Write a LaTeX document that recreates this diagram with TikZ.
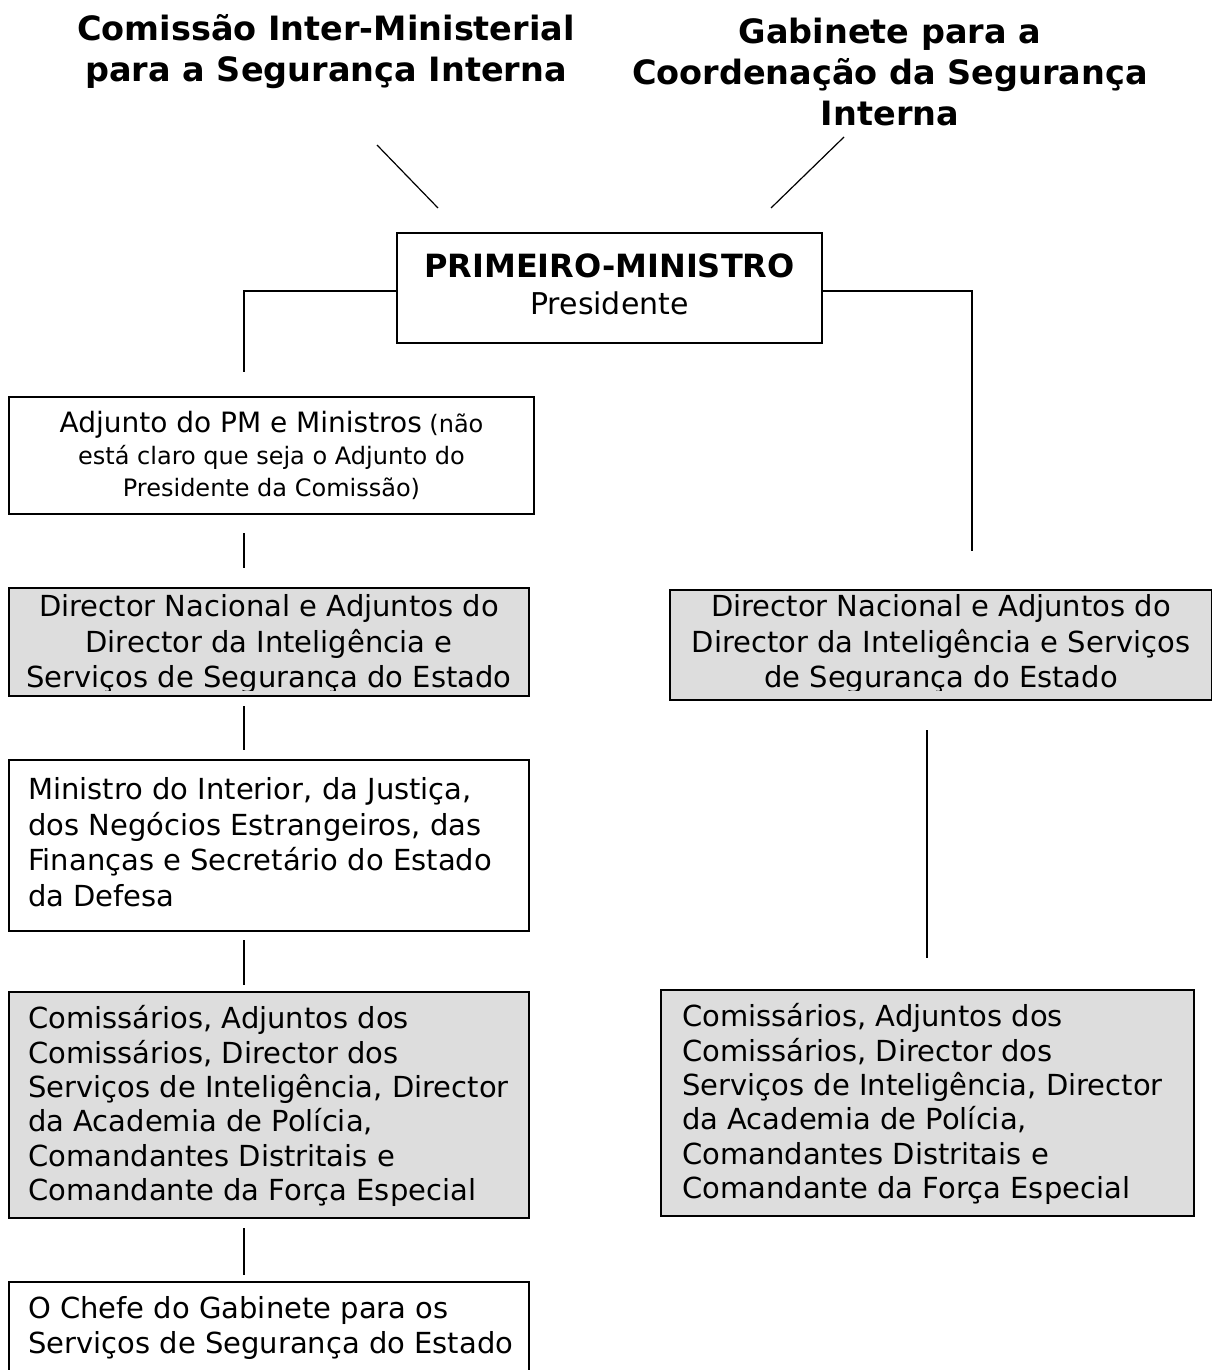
\documentclass[tikz,border=0pt]{standalone}
\usepackage{fontspec}
\setmainfont{DejaVu Sans}
\definecolor{boxgray}{HTML}{DDDDDD}
\begin{document}
\begin{tikzpicture}[x=1pt,y=-1pt,
  wbox/.style={draw=black, line width=1.4pt, fill=white, rectangle, inner sep=0pt},
  gbox/.style={wbox, fill=boxgray},
  conn/.style={draw=black, line width=1.2pt},
  body/.style={inner sep=0pt, font=\fontsize{29}{35.5}\selectfont},
  small/.style={inner sep=0pt, font=\fontsize{24}{32}\selectfont},
  ttl/.style={inner sep=0pt, align=center, font=\fontsize{33.5}{41}\selectfont\bfseries}]
\useasboundingbox (0,0) rectangle (1212,1370);
\fill[white] (0,0) rectangle (1212,1370);

% titles
\node[ttl] (t1) at (326,52) {Comissão Inter-Ministerial\\para a Segurança Interna};
\node[ttl] (t2) at (890,72) {Gabinete para a\\Coordenação da Segurança\\Interna};

\coordinate (d1a) at (377,145); \coordinate (d1b) at (438,208);
\coordinate (d2a) at (844,137); \coordinate (d2b) at (771,208);
\draw[conn] (d1a) -- (d1b);
\draw[conn] (d2a) -- (d2b);

% boxes
\node[wbox, minimum width=425pt, minimum height=110pt] (pm) at (609.5,288) {};
\node[body, align=center, font=\fontsize{30}{37}\selectfont] (pmt) at (609.5,284)
  {{\fontsize{32}{37}\selectfont\bfseries PRIMEIRO-MINISTRO}\\Presidente};

\node[wbox, minimum width=525pt, minimum height=117pt] (a) at (271.5,455.5) {};
\node[small, align=center] (at) at (271.5,455)
  {{\fontsize{28}{32}\selectfont Adjunto do PM e Ministros} (não\\está claro que seja o Adjunto do\\Presidente da Comissão)};

\node[gbox, minimum width=520pt, minimum height=108pt] (b) at (269,642) {};
\node[gbox, minimum width=542pt, minimum height=110pt] (c) at (941,645) {};
\begin{scope}
\clip (0,580) rectangle (1212,690);
\node[body, align=center] (bt) at (269,644)
  {Director Nacional e Adjuntos do\\Director da Inteligência e\\Serviços de Segurança do Estado};
\node[body, align=center] (ct) at (941,644)
  {Director Nacional e Adjuntos do\\Director da Inteligência e Serviços\\de Segurança do Estado};
\end{scope}

\node[wbox, minimum width=520pt, minimum height=171pt] (d) at (269,845.5) {};
\node[body, align=left, anchor=west] (dt) at (28,842)
  {Ministro do Interior, da Justiça,\\dos Negócios Estrangeiros, das\\Finanças e Secretário do Estado\\da Defesa};

\node[gbox, minimum width=520pt, minimum height=226pt] (e) at (269,1105) {};
\node[body, align=left, anchor=west, font=\fontsize{29}{34.3}\selectfont] (et) at (28,1106)
  {Comissários, Adjuntos dos\\Comissários, Director dos\\Serviços de Inteligência, Director\\da Academia de Polícia,\\Comandantes Distritais e\\Comandante da Força Especial};

\node[gbox, minimum width=533pt, minimum height=226pt] (f) at (927.5,1103) {};
\node[body, align=left, anchor=west, font=\fontsize{29}{34.3}\selectfont] (ft) at (682,1104)
  {Comissários, Adjuntos dos\\Comissários, Director dos\\Serviços de Inteligência, Director\\da Academia de Polícia,\\Comandantes Distritais e\\Comandante da Força Especial};

\node[wbox, minimum width=520pt, minimum height=120pt] (g) at (269,1342) {};
\node[body, align=left, anchor=west] (gt) at (28,1328)
  {O Chefe do Gabinete para os\\Serviços de Segurança do Estado};

% connectors
\coordinate (pl) at (244,372);
\coordinate (pr) at (972,551);
\draw[conn] (pm.west |- 0,291) -| (pl);
\draw[conn] (pm.east |- 0,291) -| (pr);
\coordinate (l1a) at (244,533); \coordinate (l1b) at (244,568);
\coordinate (l2a) at (244,706); \coordinate (l2b) at (244,750);
\coordinate (l3a) at (244,940); \coordinate (l3b) at (244,985);
\coordinate (l4a) at (244,1228); \coordinate (l4b) at (244,1275);
\coordinate (r1a) at (927,730); \coordinate (r1b) at (927,958);
\draw[conn] (l1a) -- (l1b);
\draw[conn] (l2a) -- (l2b);
\draw[conn] (l3a) -- (l3b);
\draw[conn] (l4a) -- (l4b);
\draw[conn] (r1a) -- (r1b);
\end{tikzpicture}
\end{document}
